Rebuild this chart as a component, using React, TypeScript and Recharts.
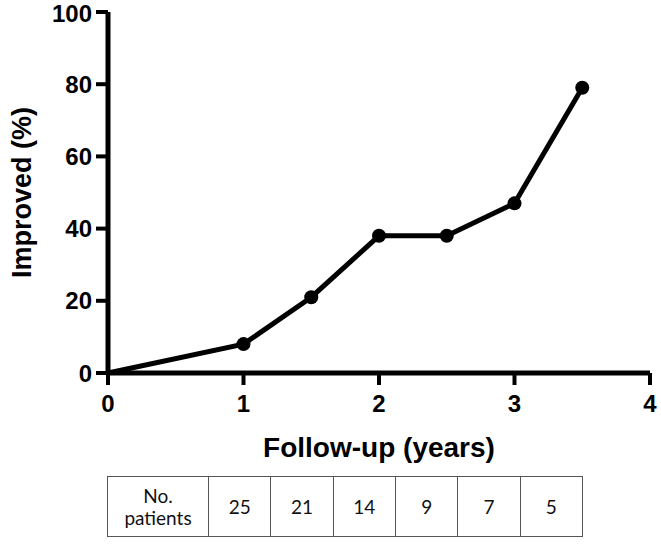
import React from 'react';
import { LineChart, Line, XAxis, YAxis } from 'recharts';

const years = [0, 1, 1.5, 2, 2.5, 3, 3.5];
const improved = [0, 8, 21, 38, 38, 47, 79];
const xTicks = [0, 1, 2, 3, 4];
const yTicks = [0, 20, 40, 60, 80, 100];
const tableHeader = ['No.', 'patients'];
const patients = [25, 21, 14, 9, 7, 5];

const data = years.map((y, i) => ({ year: y, improved: improved[i] }));

const FONT = '"Liberation Sans", Arial, Helvetica, sans-serif';

const renderDot = (props: any) => {
  const { cx, cy, index } = props;
  if (index === 0) return <g key={`d${index}`} />;
  return <circle key={`d${index}`} cx={cx} cy={cy} r={7} fill="#000" stroke="none" />;
};

const YLabel = (props: any) => {
  const vb = props.viewBox || { x: 0, y: 0, width: 0, height: 0 };
  const cx = 22;
  const cy = vb.y + vb.height / 2;
  return (
    <text
      x={cx}
      y={cy}
      transform={`rotate(-90, ${cx}, ${cy})`}
      textAnchor="middle"
      dominantBaseline="central"
      fontFamily={FONT}
      fontWeight="bold"
      fontSize={27}
      fill="#000"
    >
      Improved (%)
    </text>
  );
};

const XLabel = (props: any) => {
  const vb = props.viewBox || { x: 0, y: 0, width: 0, height: 0 };
  return (
    <text
      x={vb.x + vb.width / 2}
      y={457}
      textAnchor="middle"
      fontFamily={FONT}
      fontWeight="bold"
      fontSize={28}
      fill="#000"
    >
      Follow-up (years)
    </text>
  );
};

const cellStyle: React.CSSProperties = {
  border: '1.5px solid #555',
  textAlign: 'center',
  verticalAlign: 'middle',
  fontFamily: 'Lato, "Open Sans", sans-serif',
  fontSize: 19,
  color: '#111',
  padding: 0,
  lineHeight: '22px',
};

export default function App() {
  return (
    <div style={{ position: 'absolute', left: 0, top: 0, width: 661, height: 546, background: '#fff' }}>
      <LineChart width={661} height={470} data={data} margin={{ top: 12, right: 11, left: 0, bottom: 0 }}>
        <XAxis
          dataKey="year"
          type="number"
          domain={[0, 4]}
          ticks={xTicks}
          height={97}
          tickSize={12}
          tickMargin={10}
          axisLine={{ stroke: '#000', strokeWidth: 5 }}
          tickLine={{ stroke: '#000', strokeWidth: 4 }}
          tick={{ fill: '#000', fontSize: 24, fontWeight: 'bold', fontFamily: FONT }}
          label={{ content: (p: any) => <XLabel {...p} /> }}
        />
        <YAxis
          type="number"
          domain={[0, 100]}
          ticks={yTicks}
          width={108}
          tickSize={12}
          tickMargin={4}
          axisLine={{ stroke: '#000', strokeWidth: 5 }}
          tickLine={{ stroke: '#000', strokeWidth: 4 }}
          tick={{ fill: '#000', fontSize: 24, fontWeight: 'bold', fontFamily: FONT }}
          label={{ content: (p: any) => <YLabel {...p} /> }}
        />
        <Line
          dataKey="improved"
          stroke="#000"
          strokeWidth={5}
          dot={renderDot}
          activeDot={false}
          isAnimationActive={false}
          type="linear"
        />
      </LineChart>
      <table
        style={{
          position: 'absolute',
          left: 107,
          top: 476,
          width: 476,
          height: 61,
          borderCollapse: 'collapse',
          tableLayout: 'fixed',
        }}
      >
        <tbody>
          <tr>
            <td style={{ ...cellStyle, width: 100 }}>
              {tableHeader[0]}
              <br />
              {tableHeader[1]}
            </td>
            {patients.map((n, i) => (
              <td key={i} style={cellStyle}>
                {n}
              </td>
            ))}
          </tr>
        </tbody>
      </table>
    </div>
  );
}
